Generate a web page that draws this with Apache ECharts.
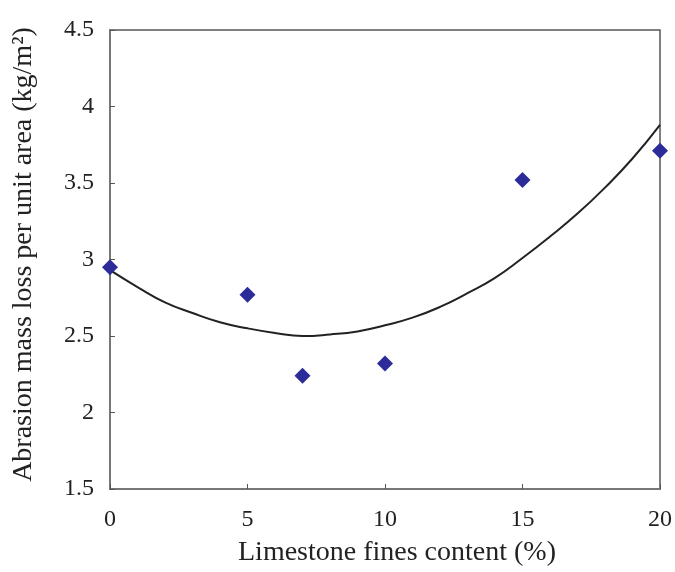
<!DOCTYPE html>
<html>
<head>
<meta charset="utf-8">
<script src="https://cdn.jsdelivr.net/npm/echarts@6/dist/echarts.min.js"></script>
<style>html,body{margin:0;padding:0;background:#fff}#c{width:675px;height:572px}</style>
</head>
<body>
<div id="c"></div>
<script>
// Measured data points
var fines = [0, 5, 7, 10, 15, 20];
var abrasion = [2.95, 2.77, 2.24, 2.32, 3.52, 3.71];
// Trend curve
var trendX = [0, 1, 2, 3, 4, 5, 6, 7, 8, 9, 10, 11, 12, 13, 14, 15, 16, 17, 18, 19, 20];
var trendY = [2.93, 2.82, 2.72, 2.65, 2.59, 2.55, 2.52, 2.50, 2.51, 2.53, 2.57, 2.62, 2.69, 2.78, 2.88, 3.01, 3.15, 3.30, 3.47, 3.66, 3.88];
var xTicks = [0, 5, 10, 15, 20];
var yTicks = [1.5, 2, 2.5, 3, 3.5, 4, 4.5];

var font = 'Liberation Serif';
var chart = echarts.init(document.getElementById('c'));
chart.setOption({
  animation: false,
  backgroundColor: '#fff',
  grid: {left: 110, right: 15, top: 30, bottom: 82, show: true, borderColor: '#555', borderWidth: 1.5},
  xAxis: {
    type: 'value', min: xTicks[0], max: xTicks[xTicks.length - 1], interval: 5,
    name: 'Limestone fines content (%)', nameLocation: 'middle', nameGap: 50,
    nameTextStyle: {fontFamily: font, fontSize: 28, color: '#222', padding: [0, 0, 0, 24]},
    axisLine: {lineStyle: {color: '#777', width: 2}},
    axisTick: {inside: true, length: 5, lineStyle: {color: '#555'}},
    axisLabel: {fontFamily: font, fontSize: 24, color: '#222', margin: 19},
    splitLine: {show: false}
  },
  yAxis: {
    type: 'value', min: yTicks[0], max: yTicks[yTicks.length - 1], interval: 0.5,
    name: 'Abrasion mass loss per unit area (kg/m\u00B2)', nameLocation: 'middle', nameGap: 72,
    nameTextStyle: {fontFamily: font, fontSize: 28, color: '#222', padding: [0, 0, 0, 10]},
    axisLine: {lineStyle: {color: '#777', width: 2}},
    axisTick: {inside: true, length: 5, lineStyle: {color: '#555'}},
    axisLabel: {fontFamily: font, fontSize: 24, color: '#222', margin: 16},
    splitLine: {show: false}
  },
  series: [
    {
      type: 'line', data: trendX.map(function (x, i) { return [x, trendY[i]]; }),
      smooth: true, showSymbol: false, symbol: 'none',
      lineStyle: {color: '#222', width: 2}, z: 2
    },
    {
      type: 'scatter', data: fines.map(function (x, i) { return [x, abrasion[i]]; }),
      symbol: 'diamond', symbolSize: 16,
      itemStyle: {color: '#2b2b99', opacity: 1}, z: 3
    }
  ]
});
</script>
</body>
</html>
